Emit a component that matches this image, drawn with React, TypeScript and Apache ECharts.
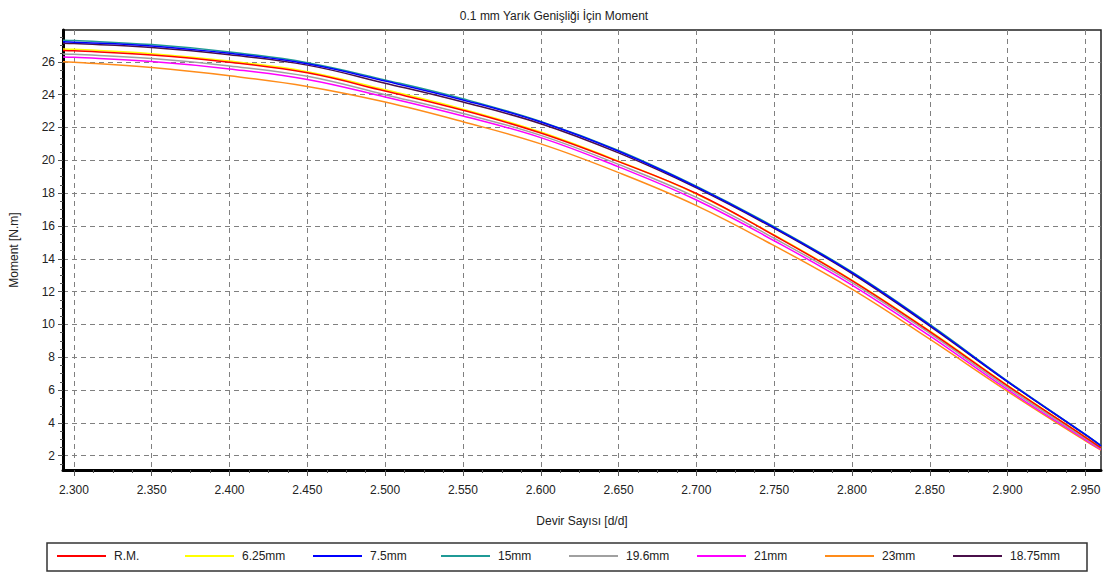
import React, { useEffect, useRef } from "react";
import * as echarts from "echarts";

const xValues = [2.293, 2.3, 2.35, 2.4, 2.45, 2.5, 2.55, 2.6, 2.65, 2.7, 2.75, 2.8, 2.85, 2.9, 2.95, 2.96];

const rm = [26.69, 26.67, 26.42, 25.98, 25.33, 24.22, 23.05, 21.66, 19.92, 17.98, 15.42, 12.67, 9.56, 6.26, 3.12, 2.48];
const mm625 = [26.78, 26.76, 26.5, 26.05, 25.4, 24.3, 23.12, 21.72, 19.95, 17.95, 15.45, 12.7, 9.6, 6.29, 3.14, 2.5];
const mm75 = [27.22, 27.2, 26.97, 26.52, 25.88, 24.83, 23.68, 22.33, 20.55, 18.38, 15.9, 13.15, 9.95, 6.52, 3.28, 2.6];
const mm15 = [27.32, 27.3, 27.05, 26.6, 25.95, 24.9, 23.75, 22.37, 20.6, 18.42, 15.95, 13.2, 10.0, 6.55, 3.3, 2.62];
const mm196 = [26.48, 26.46, 26.2, 25.75, 25.12, 24.0, 22.85, 21.52, 19.75, 17.74, 15.25, 12.55, 9.45, 6.15, 3.05, 2.44];
const mm21 = [26.3, 26.28, 26.02, 25.57, 24.93, 23.86, 22.7, 21.38, 19.6, 17.58, 15.1, 12.4, 9.3, 6.02, 2.97, 2.38];
const mm23 = [26.0, 25.98, 25.65, 25.15, 24.5, 23.55, 22.35, 21.0, 19.25, 17.24, 14.8, 12.15, 9.1, 5.92, 2.9, 2.34];
const mm1875 = [27.13, 27.11, 26.88, 26.43, 25.8, 24.7, 23.55, 22.23, 20.45, 18.32, 15.85, 13.1, 9.9, 6.5, 3.27, 2.6];

const seriesNames = ["R.M.", "6.25mm", "7.5mm", "15mm", "19.6mm", "21mm", "23mm", "18.75mm"];
const seriesValues = [rm, mm625, mm75, mm15, mm196, mm21, mm23, mm1875];
const seriesColors = ["#ff0000", "#ffff00", "#0000ff", "#1f9a96", "#a0a0a0", "#ff00ff", "#ff8c1a", "#4a0f4a"];
const drawOrder = [6, 5, 4, 1, 0, 7, 3, 2];

const xTicks = [2.3, 2.35, 2.4, 2.45, 2.5, 2.55, 2.6, 2.65, 2.7, 2.75, 2.8, 2.85, 2.9, 2.95];
const yTicks = [2, 4, 6, 8, 10, 12, 14, 16, 18, 20, 22, 24, 26];
const X_MIN = 2.293;
const X_MAX = 2.96;
const Y_MIN = 1.13;
const Y_MAX = 27.94;

const titleText = "0.1 mm Yarık Genişliği İçin Moment";
const xName = "Devir Sayısı [d/d]";
const yName = "Moment [N.m]";

const FONT = "'Liberation Sans', Arial, sans-serif";

function minorValues(ticks: number[], lo: number, hi: number, parts: number) {
  const step = (ticks[1] - ticks[0]) / parts;
  const out: number[] = [];
  for (let v = ticks[0] - step * parts; v <= hi + 1e-9; v += step) {
    const r = Math.round(v * 1e6) / 1e6;
    if (r >= lo && r <= hi) out.push(r);
  }
  return out;
}

export default function App() {
  const ref = useRef<HTMLDivElement>(null);
  useEffect(() => {
    if (!ref.current) return;
    const chart = echarts.init(ref.current, null, { renderer: "svg" });
    const series: any[] = drawOrder.map((i) => ({
      name: seriesNames[i],
      type: "line",
      xAxisIndex: 0,
      yAxisIndex: 0,
      data: xValues.map((x, k) => [x, seriesValues[i][k]]),
      symbol: "none",
      smooth: 0.4,
      lineStyle: { color: seriesColors[i], width: 1.5 },
      itemStyle: { color: seriesColors[i] },
      z: 3,
    }));
    const legends = seriesNames.map((n, i) => ({
      data: [n],
      left: 57 + i * 128,
      top: 550,
      padding: 0,
      icon: "rect",
      itemWidth: 49,
      itemHeight: 2,
      textStyle: { fontFamily: FONT, fontSize: 12, color: "#222", padding: [0, 0, 0, 3] },
    }));
    const xMinor = minorValues(xTicks, X_MIN, X_MAX, 4);
    const yMinor = minorValues(yTicks, Y_MIN, Y_MAX, 4);
    const axisText = { fontFamily: FONT, fontSize: 12, color: "#222" };
    const split = { show: true, lineStyle: { color: "#808080", type: [5, 4], width: 1 } };
    chart.setOption({
      animation: false,
      backgroundColor: "#ffffff",
      title: {
        text: titleText,
        left: "center",
        top: 5,
        textStyle: { ...axisText, fontWeight: "normal" },
      },
      grid: {
        left: 61,
        top: 30,
        right: 7,
        bottom: 105,
        show: true,
        borderColor: "#222",
        borderWidth: 1.5,
        backgroundColor: "#ffffff",
      },
      legend: legends,
      graphic: [
        {
          type: "rect",
          shape: { x: 47, y: 543, width: 1040, height: 28 },
          style: { fill: "none", stroke: "#333", lineWidth: 1.5 },
          silent: true,
        },
      ],
      xAxis: [
        {
          type: "value",
          min: X_MIN,
          max: X_MAX,
          position: "bottom",
          name: xName,
          nameLocation: "middle",
          nameGap: 45,
          nameTextStyle: axisText,
          axisLine: { show: true, onZero: false, lineStyle: { color: "#000", width: 3 } },
          axisTick: { show: true, length: 6, customValues: xTicks, lineStyle: { color: "#555" } },
          axisLabel: {
            ...axisText,
            margin: 14,
            customValues: xTicks,
            formatter: (v: number) => v.toFixed(3),
          },
          splitLine: split,
        },
        {
          type: "value",
          min: X_MIN,
          max: X_MAX,
          position: "bottom",
          offset: 0,
          axisLine: { show: false, onZero: false },
          axisTick: { show: true, length: 3, customValues: xMinor, lineStyle: { color: "#555" } },
          axisLabel: { show: false },
          splitLine: { show: false },
        },
      ],
      yAxis: [
        {
          type: "value",
          min: Y_MIN,
          max: Y_MAX,
          position: "left",
          name: yName,
          nameLocation: "middle",
          nameGap: 43,
          nameTextStyle: axisText,
          axisLine: { show: true, onZero: false, lineStyle: { color: "#000", width: 3 } },
          axisTick: { show: true, length: 5, customValues: yTicks, lineStyle: { color: "#555" } },
          axisLabel: {
            ...axisText,
            margin: 8,
            customValues: yTicks,
            formatter: (v: number) => String(v),
          },
          splitLine: split,
        },
        {
          type: "value",
          min: Y_MIN,
          max: Y_MAX,
          position: "left",
          offset: 0,
          axisLine: { show: false, onZero: false },
          axisTick: { show: true, length: 3, customValues: yMinor, lineStyle: { color: "#555" } },
          axisLabel: { show: false },
          splitLine: { show: false },
        },
      ],
      series,
    });
    return () => chart.dispose();
  }, []);
  return (
    <div
      ref={ref}
      style={{ position: "fixed", left: 0, top: 0, width: 1108, height: 575, background: "#fff" }}
    />
  );
}
